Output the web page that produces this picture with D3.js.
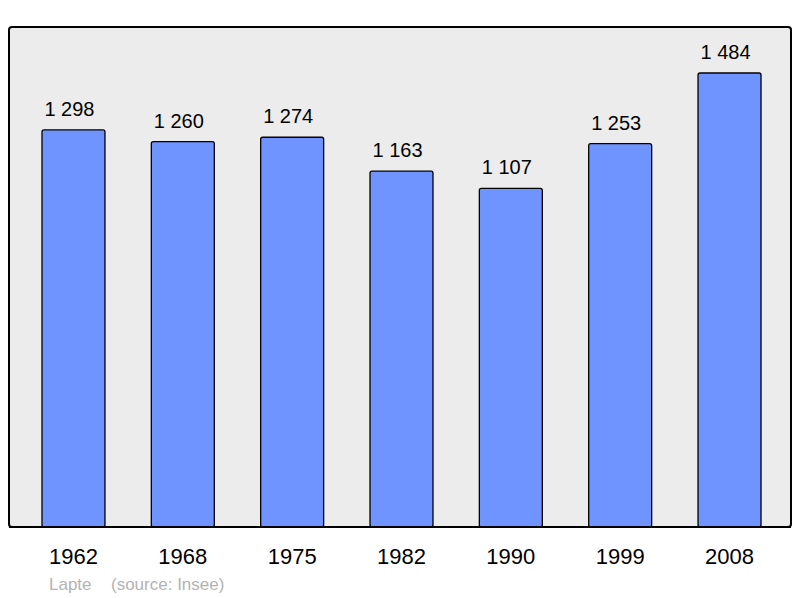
<!DOCTYPE html>
<html>
<head>
<meta charset="utf-8">
<script src="https://cdn.jsdelivr.net/npm/d3@7"></script>
<style>
  body { margin: 0; background: #fff; }
  svg { display: block; font-family: "Liberation Sans", Arial, sans-serif; }
</style>
</head>
<body>
<div id="chart"></div>
<script>
// Population data
const years = ["1962", "1968", "1975", "1982", "1990", "1999", "2008"];
const population = [1298, 1260, 1274, 1163, 1107, 1253, 1484];
const commune = "Lapte";
const source = "(source: Insee)";

const width = 800, height = 598;
const panel = { left: 9, top: 27, right: 791, bottom: 527 };

const svg = d3.select("#chart").append("svg")
    .attr("width", width)
    .attr("height", height);

// Background panel
svg.append("rect")
    .attr("x", panel.left)
    .attr("y", panel.top)
    .attr("width", panel.right - panel.left)
    .attr("height", panel.bottom - panel.top)
    .attr("rx", 3)
    .attr("fill", "#ececec")
    .attr("stroke", "#000")
    .attr("stroke-width", 2);

// Scales
const x = d3.scaleBand()
    .domain(years)
    .range([panel.left + 1.5, panel.right + 1.5])
    .paddingInner(0.424)
    .paddingOuter(0.288);

const y = d3.scaleLinear()
    .domain([0, 1484])
    .range([panel.bottom, 73]);

const data = years.map((yr, i) => ({ year: yr, value: population[i] }));

// Bars
svg.selectAll(".bar")
    .data(data)
    .enter().append("rect")
    .attr("class", "bar")
    .attr("x", d => x(d.year))
    .attr("y", d => y(d.value))
    .attr("width", x.bandwidth())
    .attr("height", d => y(0) - y(d.value))
    .attr("rx", 2)
    .attr("fill", "#7094ff")
    .attr("stroke", "#000")
    .attr("stroke-width", 1.3);

// Redraw the panel bottom line over the bars
svg.append("line")
    .attr("x1", panel.left)
    .attr("x2", panel.right)
    .attr("y1", panel.bottom)
    .attr("y2", panel.bottom)
    .attr("stroke", "#000")
    .attr("stroke-width", 2);

// Value labels (sit a little left of the bar centre, as in the original)
svg.selectAll(".value")
    .data(data)
    .enter().append("text")
    .attr("class", "value")
    .attr("x", d => x(d.year) + x.bandwidth() / 2 - 4)
    .attr("y", d => y(d.value) - 14)
    .attr("text-anchor", "middle")
    .style("font-size", "20px")
    .text(d => d3.format(",")(d.value).replace(",", " "));

// Year labels
svg.selectAll(".year")
    .data(data)
    .enter().append("text")
    .attr("class", "year")
    .attr("x", d => x(d.year) + x.bandwidth() / 2)
    .attr("y", 564)
    .attr("text-anchor", "middle")
    .style("font-size", "22px")
    .text(d => d.year);

// Footer
svg.append("text")
    .attr("x", 49)
    .attr("y", 590)
    .style("font-size", "17px")
    .attr("fill", "#b3b3b3")
    .text(commune);

svg.append("text")
    .attr("x", 111)
    .attr("y", 590)
    .style("font-size", "17px")
    .attr("fill", "#b3b3b3")
    .text(source);
</script>
</body>
</html>
